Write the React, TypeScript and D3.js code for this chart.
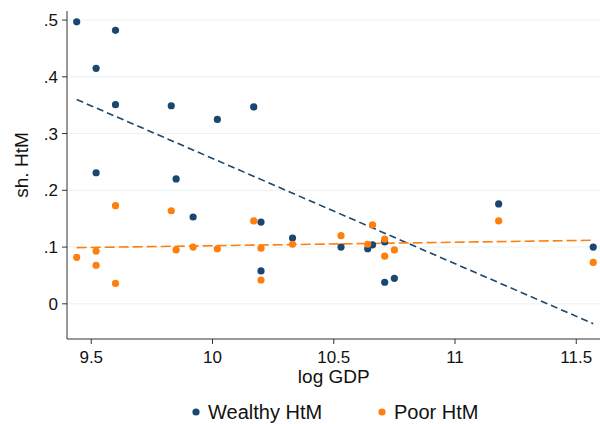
import * as d3 from 'd3';

const wealthyX = [9.44, 9.52, 9.60, 9.60, 9.52, 9.83, 9.85, 9.92, 10.02, 10.17, 10.20, 10.20, 10.33, 10.53, 10.64, 10.66, 10.71, 10.71, 10.75, 11.18, 11.57];
const wealthyY = [0.497, 0.415, 0.482, 0.351, 0.231, 0.349, 0.22, 0.153, 0.325, 0.347, 0.144, 0.058, 0.116, 0.10, 0.097, 0.104, 0.109, 0.038, 0.045, 0.176, 0.10];
const poorX = [9.44, 9.52, 9.52, 9.60, 9.60, 9.83, 9.85, 9.92, 10.02, 10.17, 10.20, 10.20, 10.33, 10.53, 10.64, 10.66, 10.71, 10.71, 10.75, 11.18, 11.57];
const poorY = [0.082, 0.093, 0.068, 0.173, 0.036, 0.164, 0.095, 0.10, 0.097, 0.146, 0.042, 0.098, 0.105, 0.12, 0.105, 0.139, 0.114, 0.084, 0.095, 0.146, 0.073];
// fitted line endpoints
const fitX = [9.44, 11.57];
const wealthyFit = [0.36, -0.035];
const poorFit = [0.099, 0.112];
const xTicks = [9.5, 10, 10.5, 11, 11.5];
const yTicks = [0, 0.1, 0.2, 0.3, 0.4, 0.5];

const navy = '#1a476f';
const orange = '#ff7f0e';

export default function App() {
  const left = 67, right = 600, top = 11, bottom = 339;
  const x = d3.scaleLinear().domain([9.4, 11.6]).range([left, right + 0.5]);
  const y = d3.scaleLinear().domain([-0.062, 0.516]).range([bottom, top]);
  const line = d3.line<number>().x((_, i) => x(fitX[i])).y(d => y(d));
  const fmtY = (v: number) => (v === 0 ? '0' : d3.format('.1f')(v).replace(/^0/, ''));
  const font = '"Liberation Sans", Arial, sans-serif';

  return (
    <svg width={600} height={424} style={{ position: 'absolute', left: 0, top: 0, fontFamily: font }}>
      <rect width={600} height={424} fill="#fff" />
      {yTicks.map(t => (
        <g key={t}>
          <line x1={left} x2={right} y1={y(t)} y2={y(t)} stroke="#eaf2f3" strokeWidth={1} />
          <line x1={left - 5} x2={left} y1={y(t)} y2={y(t)} stroke="#333" />
          <text x={left - 9} y={y(t)} dy="0.35em" textAnchor="end" fontSize={17} fill="#111">{fmtY(t)}</text>
        </g>
      ))}
      {xTicks.map(t => (
        <g key={t}>
          <line x1={x(t)} x2={x(t)} y1={bottom} y2={bottom + 5} stroke="#333" />
          <text x={x(t)} y={bottom + 24} textAnchor="middle" fontSize={17} fill="#111">{t}</text>
        </g>
      ))}
      <line x1={left} x2={left} y1={top} y2={bottom} stroke="#333" />
      <line x1={left} x2={right} y1={bottom} y2={bottom} stroke="#333" />
      <path d={line(wealthyFit) || ''} fill="none" stroke={navy} strokeWidth={1.6} strokeDasharray="7,4" />
      <path d={line(poorFit) || ''} fill="none" stroke={orange} strokeWidth={1.6} strokeDasharray="10,4" />
      {wealthyX.map((v, i) => <circle key={'w' + i} cx={x(v)} cy={y(wealthyY[i])} r={3.6} fill={navy} />)}
      {poorX.map((v, i) => <circle key={'p' + i} cx={x(v)} cy={y(poorY[i])} r={3.6} fill={orange} />)}
      <text x={x(10.5)} y={383} textAnchor="middle" fontSize={19} fill="#111">log GDP</text>
      <text transform={`translate(28,${(top + bottom) / 2 - 10}) rotate(-90)`} textAnchor="middle" fontSize={19} fill="#111">sh. HtM</text>
      <circle cx={196} cy={412} r={3.6} fill={navy} />
      <text x={208} y={419} fontSize={20} fill="#111">Wealthy HtM</text>
      <circle cx={382} cy={412} r={3.6} fill={orange} />
      <text x={394} y={419} fontSize={20} fill="#111">Poor HtM</text>
    </svg>
  );
}
